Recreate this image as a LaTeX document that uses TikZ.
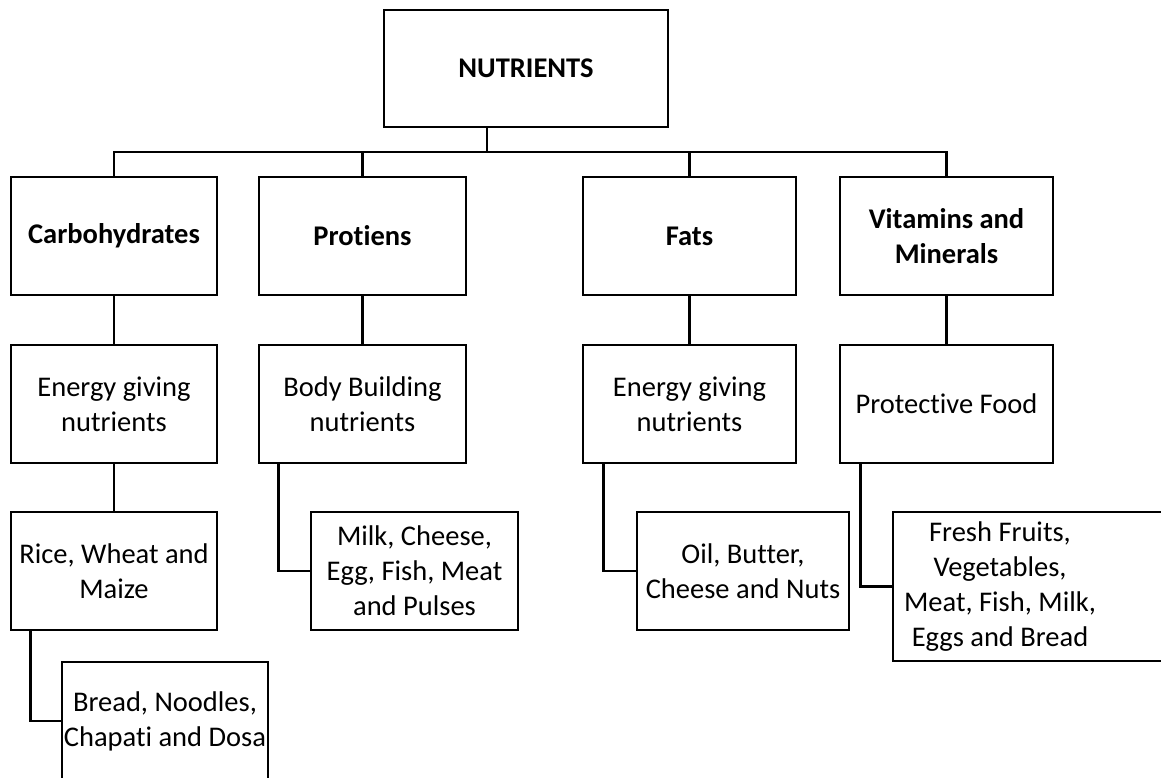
\documentclass[tikz,border=0pt]{standalone}
\usepackage{fontspec}
\setmainfont[Ligatures={NoCommon,NoRare,NoContextual}]{Carlito}
\begin{document}
\begin{tikzpicture}[x=1pt,y=-1pt,line width=2.8pt,
  box/.style={draw,rectangle,inner sep=0pt,align=center,
    font=\fontsize{28.5}{35}\selectfont},
  hbox/.style={box,font=\fontsize{28.5}{35}\selectfont\bfseries},
  conn/.style={draw,line width=2.8pt}]
\useasboundingbox (0,0) rectangle (1161,778);
\clip (0,0) rectangle (1161,778);
% top
\node[hbox,minimum width=284pt,minimum height=117pt] (N) at (526,68.5) {NUTRIENTS};
% level 1
\node[hbox,minimum width=206pt,minimum height=118pt] (carbo) at (114,236) {Carbohydrates};
\node[hbox,minimum width=207pt,minimum height=118pt] (prot) at (362.5,236) {Protiens};
\node[hbox,minimum width=213pt,minimum height=118pt] (fats) at (689.5,236) {Fats};
\node[hbox,minimum width=213pt,minimum height=118pt] (vit) at (946.5,236) {Vitamins and\\Minerals};
% level 2
\node[box,minimum width=206pt,minimum height=118pt] (e1) at (114,404) {Energy giving\\nutrients};
\node[box,minimum width=207pt,minimum height=118pt] (bb) at (362.5,404) {Body Building\\nutrients};
\node[box,minimum width=213pt,minimum height=118pt] (e2) at (689.5,404) {Energy giving\\nutrients};
\node[box,minimum width=213pt,minimum height=118pt] (pf) at (946.5,404) {Protective Food};
% level 3
\node[box,minimum width=206pt,minimum height=118pt] (rice) at (114,571) {Rice, Wheat and\\Maize};
\node[box,minimum width=207pt,minimum height=118pt] (milk) at (414.5,571) {Milk, Cheese,\\Egg, Fish, Meat\\and Pulses};
\node[box,minimum width=212pt,minimum height=118pt] (oil) at (743,571) {Oil, Butter,\\Cheese and Nuts};
\node[box,minimum width=290pt,minimum height=149pt] (fresh) at (1038,586.5) {};
\node[box,draw=none] (freshtxt) at (1000,586.5) {Fresh Fruits,\\Vegetables,\\Meat, Fish, Milk,\\Eggs and Bread};
% level 4
\node[box,minimum width=206pt,minimum height=118pt] (bread) at (165,721) {Bread, Noodles,\\Chapati and Dosa};
% connectors
\coordinate (bus) at (487,152);
\draw[conn] (N.south -| bus) -- (bus);
\draw[conn] (carbo.north) |- (vit.north |- bus) -- (vit.north);
\draw[conn] (prot.north) -- (prot.north |- bus);
\draw[conn] (fats.north) -- (fats.north |- bus);
\draw[conn] (carbo.south) -- (e1.north);
\draw[conn] (prot.south) -- (bb.north);
\draw[conn] (fats.south) -- (e2.north);
\draw[conn] (vit.south) -- (pf.north);
\draw[conn] (e1.south) -- (rice.north);
\draw[conn] ([xshift=21pt]bb.south west) |- (milk.west);
\draw[conn] ([xshift=22pt]e2.south west) |- (oil.west);
\draw[conn] ([xshift=22pt]pf.south west) |- (fresh.west);
\draw[conn] ([xshift=21pt]rice.south west) |- (bread.west);
\end{tikzpicture}
\end{document}
